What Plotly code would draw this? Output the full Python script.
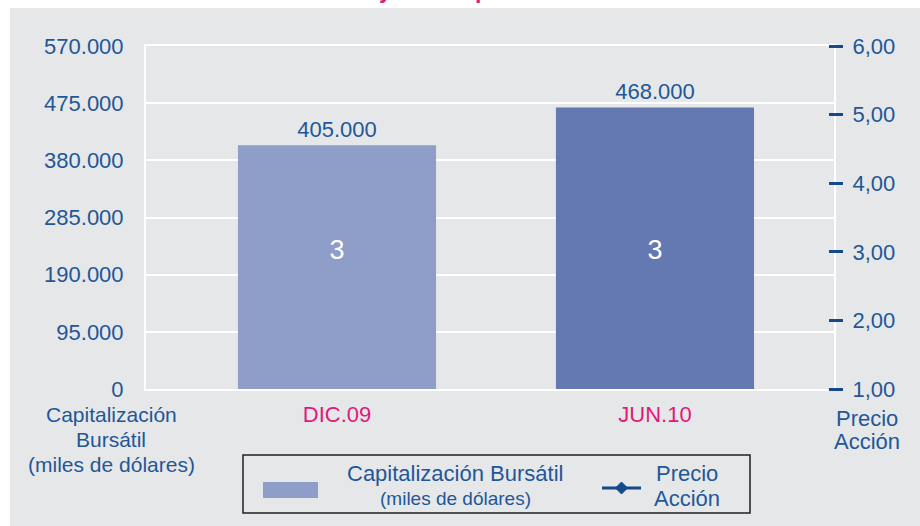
import plotly.graph_objects as go

# ---------------- data ----------------
categories = ["DIC.09", "JUN.10"]
capitalizacion = [405000, 468000]          # miles de dólares
precio_accion = [3, 3]
left_ticks = [0, 95000, 190000, 285000, 380000, 475000, 570000]
right_ticks = [1, 2, 3, 4, 5, 6]
bar_colors = ["#8f9ec8", "#6479b1"]

# ---------------- styling ----------------
W, H = 920, 526
L, R, T, B = 146, 834, 46, 389   # plot area in pixels
BG = "#e6e7e9"
BLUE = "#1f5797"
DARK_BLUE = "#14498b"
PINK = "#e2197c"
FONT = "Liberation Sans"


def px(xp):
    return (xp - L) / (R - L)


def py(yp):
    return (B - yp) / (B - T)


fig = go.Figure()

fig.add_bar(
    x=categories,
    y=capitalizacion,
    marker=dict(color=bar_colors, line=dict(width=0)),
    width=0.623,
    texttemplate="%{y:,.0f}",
    textposition="outside",
    textfont=dict(family=FONT, size=22, color=BLUE),
    cliponaxis=False,
    showlegend=False,
    hoverinfo="skip",
)

fig.add_scatter(
    x=categories,
    y=precio_accion,
    yaxis="y2",
    mode="text",
    text=[f"{v:d}" for v in precio_accion],
    textposition="middle center",
    textfont=dict(family=FONT, size=27, color="white"),
    showlegend=False,
    hoverinfo="skip",
    cliponaxis=False,
)

shapes = [
    # white strips around the grey panel
    dict(type="rect", xref="paper", yref="paper", x0=px(0), x1=px(W), y0=py(8), y1=py(0),
         fillcolor="white", line=dict(width=0), layer="below"),
    dict(type="rect", xref="paper", yref="paper", x0=px(0), x1=px(10), y0=py(H), y1=py(0),
         fillcolor="white", line=dict(width=0), layer="below"),
    # legend box
    dict(type="rect", xref="paper", yref="paper", x0=px(243), x1=px(750), y0=py(513), y1=py(455),
         line=dict(color="#231f20", width=1.5), fillcolor="rgba(0,0,0,0)"),
    # legend swatch for bars
    dict(type="rect", xref="paper", yref="paper", x0=px(263), x1=px(318), y0=py(498), y1=py(482),
         fillcolor=bar_colors[0], line=dict(width=0)),
    # legend line for price
    dict(type="line", xref="paper", yref="paper", x0=px(602), x1=px(641), y0=py(488), y1=py(488),
         line=dict(color=DARK_BLUE, width=3)),
    dict(type="path", xref="paper", yref="paper",
         path=f"M {px(615.5)},{py(488)} L {px(621.5)},{py(482)} L {px(627.5)},{py(488)} "
              f"L {px(621.5)},{py(494)} Z",
         fillcolor=DARK_BLUE, line=dict(color=DARK_BLUE, width=1)),
]


def ann(text, x, y, size=22, color=BLUE, bold=False, xanchor="center", yanchor="middle"):
    return dict(text=text, x=px(x), y=py(y), xref="paper", yref="paper",
                xanchor=xanchor, yanchor=yanchor, showarrow=False,
                font=dict(family=FONT, size=size, color=color,
                          weight="bold" if bold else "normal"))


annotations = [
    # title, cut off at the very top as in the source
    ann("Bursátil y Precio por Acción", 440, 5, size=23, color=PINK, bold=True, yanchor="bottom"),
    # left axis title
    ann("Capitalización", 111, 415, size=21),
    ann("Bursátil", 111, 440, size=21),
    ann("(miles de dólares)", 111, 464, size=21),
    # right axis title
    ann("Precio", 867, 418),
    ann("Acción", 867, 442),
    # legend texts
    ann("Capitalización Bursátil", 455, 473),
    ann("(miles de dólares)", 455, 498, size=19),
    ann("Precio", 687, 473),
    ann("Acción", 687, 498),
]

fig.update_layout(
    width=W,
    height=H,
    margin=dict(l=L, r=W - R, t=T, b=H - B, pad=0),
    paper_bgcolor=BG,
    plot_bgcolor=BG,
    separators=",.",
    font=dict(family=FONT, color=BLUE),
    showlegend=False,
    shapes=shapes,
    annotations=annotations,
    xaxis=dict(
        type="category",
        range=[-0.6006, 1.563],
        tickvals=categories,
        ticktext=categories,
        tickfont=dict(family=FONT, size=22, color=PINK),
        ticks="",
        ticklabelstandoff=5,
        showgrid=False,
        zeroline=False,
        showline=True,
        linecolor="white",
        linewidth=2,
        mirror=True,
        automargin=False,
        fixedrange=True,
    ),
    yaxis=dict(
        range=[0, 570000],
        tickvals=left_ticks,
        tickformat=",.0f",
        tickfont=dict(family=FONT, size=22, color=BLUE),
        ticks="",
        ticklabelstandoff=16,
        showgrid=True,
        gridcolor="white",
        gridwidth=2,
        zeroline=False,
        showline=True,
        linecolor="white",
        linewidth=2,
        mirror=True,
        automargin=False,
        fixedrange=True,
    ),
    yaxis2=dict(
        overlaying="y",
        side="right",
        anchor="free",
        position=px(828),
        range=[1, 6],
        tickvals=right_ticks,
        tickformat=".2f",
        tickfont=dict(family=FONT, size=22, color=BLUE),
        ticks="outside",
        ticklen=14,
        tickwidth=3,
        tickcolor=DARK_BLUE,
        ticklabelstandoff=5,
        showgrid=False,
        zeroline=False,
        showline=False,
        automargin=False,
        fixedrange=True,
    ),
)

fig.write_html(
    "out.html",
    config={"displayModeBar": False},
    post_script="document.body.style.margin='0px';document.body.style.overflow='hidden';",
)
